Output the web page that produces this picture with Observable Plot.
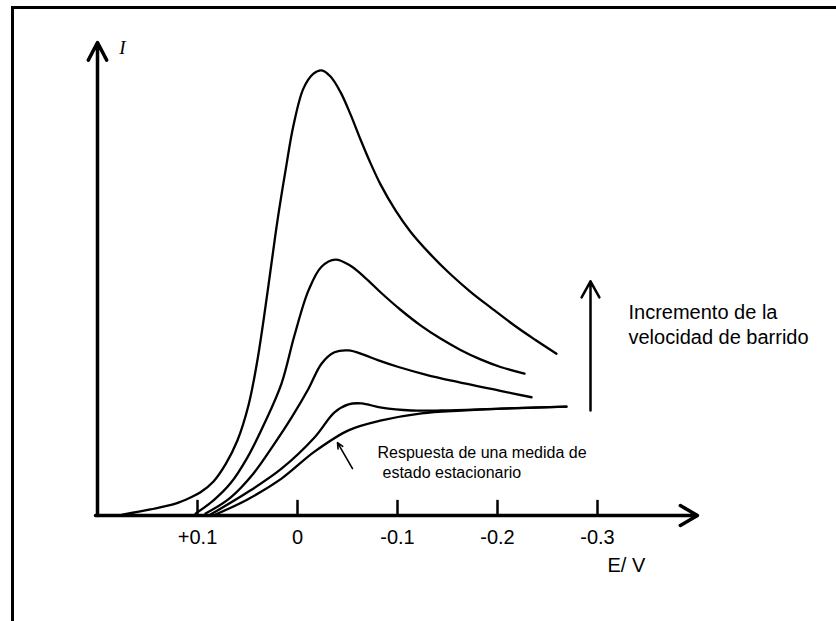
<!DOCTYPE html>
<html>
<head>
<meta charset="utf-8">
<script src="https://cdn.jsdelivr.net/npm/d3@7"></script>
<script src="https://cdn.jsdelivr.net/npm/@observablehq/plot@0.6"></script>
<style>
  html, body { margin: 0; padding: 0; background: #fff; }
  #wrap { position: relative; width: 836px; height: 621px; overflow: hidden; }
  #frame { position: absolute; left: 11px; top: 6px; width: 900px; height: 700px;
           border-top: 3px solid #000; border-left: 3px solid #000; box-sizing: border-box; }
  #chart { position: absolute; left: 0; top: 0; }
</style>
</head>
<body>
<div id="wrap"><div id="frame"></div><div id="chart"></div></div>
<script>
// Potential E (V) and current I (arbitrary units)
const curve1 = [[0.175,0.2],[0.147,1.3],[0.122,2.5],[0.107,3.8],[0.097,4.9],[0.084,7.2],[0.072,10.8],[0.060,15.9],[0.049,23.3],[0.041,31.7],[0.034,41.2],[0.027,51.8],[0.020,62.4],[0.012,72.9],[0.004,82.5],[-0.006,90.3],[-0.016,93.4],[-0.024,94.1],[-0.033,92.8],[-0.043,89.5],[-0.053,84.8],[-0.063,79.5],[-0.073,74.5],[-0.083,70.0],[-0.098,64.5],[-0.113,60.0],[-0.133,55.2],[-0.153,51.0],[-0.173,47.3],[-0.193,44.0],[-0.218,40.0],[-0.238,37.1],[-0.259,34.2]];
const curve2 = [[0.102,0.4],[0.084,3.2],[0.067,6.8],[0.050,12.3],[0.033,19.5],[0.016,27.9],[0.003,38.1],[-0.011,47.6],[-0.024,52.6],[-0.038,54.1],[-0.053,52.8],[-0.068,50.2],[-0.083,47.2],[-0.103,43.5],[-0.123,40.2],[-0.143,37.4],[-0.163,35.0],[-0.183,33.0],[-0.203,31.4],[-0.227,30.0]];
const curve3 = [[0.092,0.4],[0.067,3.8],[0.044,8.9],[0.023,15.2],[0.006,20.7],[-0.011,26.8],[-0.024,32.1],[-0.037,34.5],[-0.051,34.9],[-0.066,34.0],[-0.081,32.8],[-0.101,31.4],[-0.128,29.8],[-0.154,28.5],[-0.204,26.3],[-0.234,25.0]];
const curve4 = [[0.087,0.2],[0.050,4.9],[0.016,9.9],[-0.017,16.5],[-0.037,21.8],[-0.051,23.5],[-0.064,23.7],[-0.084,22.8],[-0.114,22.2],[-0.144,22.2],[-0.204,22.6],[-0.269,23.0]];
const curve5 = [[0.082,0.2],[0.050,3.4],[0.016,7.8],[-0.017,13.5],[-0.051,18.0],[-0.084,20.1],[-0.124,21.6],[-0.164,22.2],[-0.204,22.6],[-0.269,23.0]];
const tickValues = [0.1, 0, -0.1, -0.2, -0.3];
const tickLabels = ["+0.1", "0", "-0.1", "-0.2", "-0.3"];
const xDomain = [0.2, -0.4];
const yDomain = [0, 100];

const rows = [];
[curve1, curve2, curve3, curve4, curve5].forEach((c, k) =>
  c.forEach(([E, I]) => rows.push({series: k + 1, E, I})));

const sans = "Liberation Sans, Arial, Helvetica, sans-serif";
const one = [0];

const chart = Plot.plot({
  width: 836,
  height: 621,
  marginLeft: 97,
  marginRight: 139,
  marginTop: 42,
  marginBottom: 106,
  x: {domain: xDomain, axis: null},
  y: {domain: yDomain, axis: null},
  style: {background: "transparent", overflow: "visible"},
  marks: [
    // axes
    Plot.arrow(one, {x1: () => 0.2, y1: () => 0, x2: () => 0.2, y2: () => 100,
      stroke: "black", strokeWidth: 3.5, headLength: 8.5, headAngle: 55}),
    Plot.arrow(one, {x1: () => 0.202, y1: () => 0, x2: () => -0.4, y2: () => 0,
      stroke: "black", strokeWidth: 3.5, headLength: 8.5, headAngle: 60}),
    Plot.ruleX(tickValues, {x: d => d, y1: 0, y2: 3.2, stroke: "black", strokeWidth: 2.5}),
    Plot.text(tickValues, {x: d => d, y: 0, dy: 22, text: (d, i) => tickLabels[i],
      fontSize: 20, fontFamily: sans, fill: "black"}),
    Plot.text(one, {x: () => -0.31, y: () => -10.6, text: () => "E/ V", textAnchor: "start",
      fontSize: 20, fontFamily: sans, fill: "black"}),
    Plot.text(one, {x: () => 0.175, y: () => 98.9, text: () => "I", fontStyle: "italic",
      fontSize: 19, fontFamily: "Liberation Serif, Times New Roman, serif", fill: "black"}),
    // voltammograms
    Plot.line(rows, {x: "E", y: "I", z: "series", curve: "catmull-rom",
      stroke: "black", strokeWidth: 2.3}),
    // annotations
    Plot.arrow(one, {x1: () => -0.055, y1: () => 9.9, x2: () => -0.04, y2: () => 15.4,
      stroke: "black", strokeWidth: 1.6, headLength: 6, headAngle: 50}),
    Plot.text(["Respuesta de una medida de", "estado estacionario"], {
      x: (d, i) => i === 0 ? -0.08 : -0.085, y: (d, i) => i === 0 ? 13.3 : 9.1,
      text: d => d, textAnchor: "start", fontSize: 16, fontFamily: sans, fill: "black"}),
    Plot.arrow(one, {x1: () => -0.293, y1: () => 22.2, x2: () => -0.293, y2: () => 49.5,
      stroke: "black", strokeWidth: 2.5, headLength: 11, headAngle: 58}),
    Plot.text(["Incremento de la", "velocidad de barrido"], {
      x: () => -0.331, y: (d, i) => i === 0 ? 42.9 : 37.6,
      text: d => d, textAnchor: "start", fontSize: 20, fontFamily: sans, fill: "black"})
  ]
});
document.getElementById("chart").appendChild(chart);
</script>
</body>
</html>
